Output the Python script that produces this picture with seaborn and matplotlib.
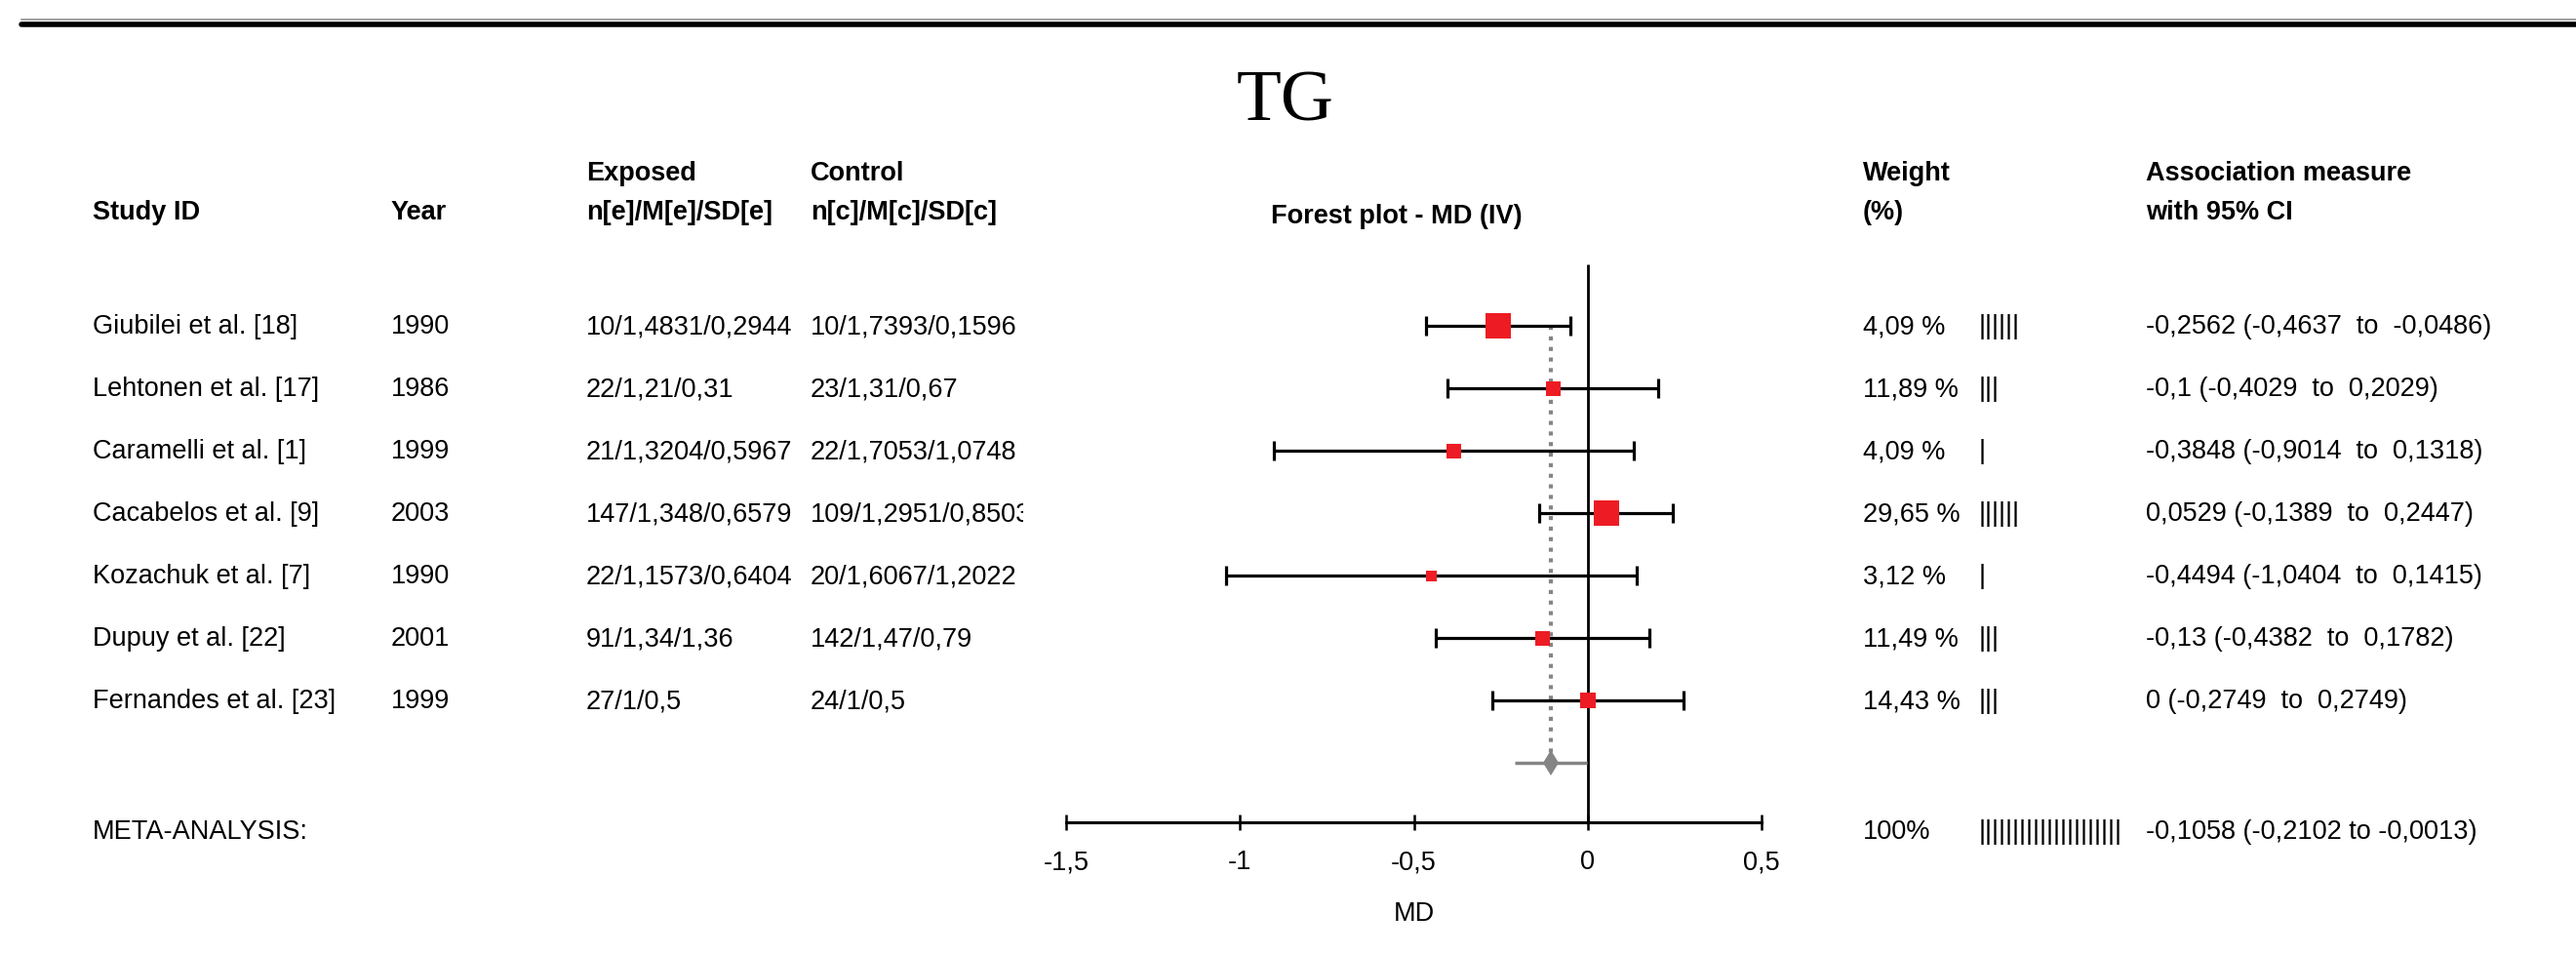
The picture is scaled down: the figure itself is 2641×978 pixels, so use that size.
import matplotlib
matplotlib.use("Agg")
import matplotlib.pyplot as plt
import matplotlib.transforms as mtransforms
from matplotlib.lines import Line2D
from matplotlib import font_manager
import numpy as np
import pandas as pd
import seaborn as sns

# ---- data -----------------------------------------------------------------
studies = ["Giubilei et al. [18]", "Lehtonen et al. [17]", "Caramelli et al. [1]",
           "Cacabelos et al. [9]", "Kozachuk et al. [7]", "Dupuy et al. [22]",
           "Fernandes et al. [23]"]
years = ["1990", "1986", "1999", "2003", "1990", "2001", "1999"]
exposed = ["10/1,4831/0,2944", "22/1,21/0,31", "21/1,3204/0,5967", "147/1,348/0,6579",
           "22/1,1573/0,6404", "91/1,34/1,36", "27/1/0,5"]
control = ["10/1,7393/0,1596", "23/1,31/0,67", "22/1,7053/1,0748", "109/1,2951/0,8503",
           "20/1,6067/1,2022", "142/1,47/0,79", "24/1/0,5"]
md = [-0.2562, -0.1, -0.3848, 0.0529, -0.4494, -0.13, 0.0]
ci_low = [-0.4637, -0.4029, -0.9014, -0.1389, -1.0404, -0.4382, -0.2749]
ci_high = [-0.0486, 0.2029, 0.1318, 0.2447, 0.1415, 0.1782, 0.2749]
weights = [4.09, 11.89, 4.09, 29.65, 3.12, 11.49, 14.43]
weight_bars = ["||||||", "|||", "|", "||||||", "|", "|||", "|||"]
pooled_md = -0.1058
pooled_low = -0.2102
pooled_high = -0.0013
pooled_weight = 100
pooled_bars = "|" * 21
ticks = [-1.5, -1, -0.5, 0, 0.5]
tick_labels = ["-1,5", "-1", "-0,5", "0", "0,5"]

# box side of each study marker, in pixels
box_px = [26, 15, 15, 26, 11, 15, 16]

# ---- styling ----------------------------------------------------------------
sns.set_theme(style="white")
names = {f.name for f in font_manager.fontManager.ttflist}
if "Liberation Sans Narrow" in names:
    SANS, FS = "Liberation Sans Narrow", 23.0
else:
    SANS, FS = "Liberation Sans", 19.5
plt.rcParams["font.family"] = [SANS, "DejaVu Sans"]

RED = "#ED1C24"
GREY = "#858585"

W, H = 2641, 979
fig = plt.figure(figsize=(W / 100, H / 100), dpi=100)
fig.patch.set_facecolor("white")

# forest panel: x spans -1.5..0.5 over its width, y in row units
ROW0, STEP = 335.0, 64.0           # first row centre and row pitch (px from top)
x_left, x_right = 1093, 1806
ax = fig.add_axes([x_left / W, 0, (x_right - x_left) / W, 1])
ax.set_xlim(-1.5, 0.5)
ax.set_ylim((H - ROW0) / STEP, -ROW0 / STEP)
ax.set_facecolor("none")


def row(px):
    return (px - ROW0) / STEP


n = len(studies)
rows = np.arange(n)
df = pd.DataFrame({"study": studies, "md": md, "lo": ci_low, "hi": ci_high,
                   "row": rows, "box": box_px})

axis_row = row(844)
diamond_row = n
meta_row = row(853)

# reference line at zero and dotted pooled estimate line
ax.vlines(0, row(272), axis_row, color="black", lw=2.0, zorder=1)
ax.vlines(pooled_md, 0, diamond_row, color=GREY, lw=3.0,
          linestyles=(0, (1.0, 1.6)), zorder=1)

# confidence intervals with end caps
ax.hlines(df["row"], df["lo"], df["hi"], color="black", lw=2.3, zorder=2)
cap = 0.15
ax.vlines(df["lo"], df["row"] - cap, df["row"] + cap, color="black", lw=2.3, zorder=2)
ax.vlines(df["hi"], df["row"] - cap, df["row"] + cap, color="black", lw=2.3, zorder=2)

# study estimates
sns.scatterplot(data=df, x="md", y="row", marker="s", color=RED,
                s=(df["box"] * 0.72) ** 2, linewidth=0, ax=ax, zorder=3,
                legend=False)

# pooled estimate
ax.hlines(diamond_row, pooled_low, pooled_high, color=GREY, lw=2.5, zorder=2)
ax.plot([pooled_md], [diamond_row], marker="d", ms=13, color=GREY,
        markeredgewidth=0, zorder=3)

# x axis drawn at the bottom of the study block
for side in ["left", "right", "top"]:
    ax.spines[side].set_visible(False)
ax.spines["bottom"].set_position(("data", axis_row))
ax.spines["bottom"].set_color("black")
ax.spines["bottom"].set_linewidth(2.2)
ax.set_yticks([])
ax.set_xticks(ticks)
ax.set_xticklabels(tick_labels)
ax.tick_params(axis="x", direction="inout", length=11.5, width=1.8, color="black",
               pad=14, labelsize=FS, labelcolor="black", bottom=True)
ax.set_xlabel("")
ax.text(-0.5, row(937), "MD", ha="center", va="center", fontsize=FS, color="black")
ax.set_ylabel("")

# ---- table text -------------------------------------------------------------
tr = mtransforms.blended_transform_factory(fig.transFigure, ax.transData)


def put(px, r, s, bold=False, clip_px=None):
    t = ax.text(px / W, r, s, transform=tr, ha="left", va="center", fontsize=FS,
                fontweight="bold" if bold else "normal", color="black", clip_on=False)
    if clip_px is not None:
        box = mtransforms.TransformedBbox(
            mtransforms.Bbox([[0, 0], [clip_px / W, 1]]), fig.transFigure)
        t.set_clip_box(box)
        t.set_clip_on(True)
    return t


COL_STUDY, COL_YEAR, COL_EXP, COL_CTRL = 95, 401, 601, 831
COL_W, COL_BAR, COL_ASSOC = 1910, 2029, 2200
H1, H2 = row(178), row(218)

put(COL_STUDY, H2, "Study ID", bold=True)
put(COL_YEAR, H2, "Year", bold=True)
put(COL_EXP, H1, "Exposed", bold=True)
put(COL_EXP, H2, "n[e]/M[e]/SD[e]", bold=True)
put(COL_CTRL, H1, "Control", bold=True)
put(COL_CTRL, H2, "n[c]/M[c]/SD[c]", bold=True)
put(COL_W, H1, "Weight", bold=True)
put(COL_W, H2, "(%)", bold=True)
put(COL_ASSOC, H1, "Association measure", bold=True)
put(COL_ASSOC, H2, "with 95% CI", bold=True)
ax.text(-0.55, row(222), "Forest plot - MD (IV)", ha="center", va="center",
        fontsize=FS, fontweight="bold", color="black")


def fmt(v):
    s = f"{v:.4f}".rstrip("0").rstrip(".")
    if s in ("-0", ""):
        s = "0"
    return s.replace(".", ",")


for i in range(n):
    put(COL_STUDY, i, studies[i])
    put(COL_YEAR, i, years[i])
    put(COL_EXP, i, exposed[i])
    put(COL_CTRL, i, control[i], clip_px=1049)
    put(COL_W, i, f"{fmt(weights[i])} %")
    put(COL_BAR, i, weight_bars[i])
    put(COL_ASSOC, i, f"{fmt(md[i])} ({fmt(ci_low[i])}  to  {fmt(ci_high[i])})")

put(COL_STUDY, meta_row, "META-ANALYSIS:")
put(COL_W, meta_row, f"{pooled_weight}%")
put(COL_BAR, meta_row, pooled_bars)
put(COL_ASSOC, meta_row, f"{fmt(pooled_md)} ({fmt(pooled_low)} to {fmt(pooled_high)})")

# ---- title and top rule -----------------------------------------------------
fig.text(1318 / W, 1 - 124 / H, "TG", ha="center", va="baseline", fontsize=54,
         family="Liberation Serif", color="black")
fig.add_artist(Line2D([22 / W, 1], [1 - 21 / H] * 2, lw=1.4, color="#a0a0a0"))
fig.add_artist(Line2D([22 / W, 1], [1 - 25.5 / H] * 2, lw=4.0, color="black"))

fig.savefig("out.png", dpi=100, facecolor="white")
